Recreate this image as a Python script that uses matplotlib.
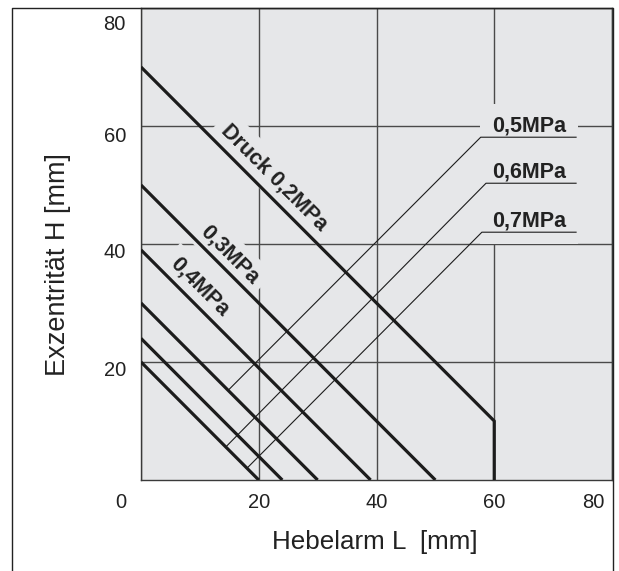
import matplotlib.pyplot as plt
from matplotlib.lines import Line2D

plt.rcParams['font.family'] = ['Liberation Sans', 'DejaVu Sans']

# Kennlinien: Hebelarm L [mm] -> Exzentrität H [mm]
druck_02_L = [0, 60, 60]
druck_02_H = [70, 10, 0]
druck_03_L = [0, 50]
druck_03_H = [50, 0]
druck_04_L = [0, 39]
druck_04_H = [39, 0]
druck_05_L = [0, 30]
druck_05_H = [30, 0]
druck_06_L = [0, 24]
druck_06_H = [24, 0]
druck_07_L = [0, 20]
druck_07_H = [20, 0]

# Hinweislinien für 0,5 / 0,6 / 0,7 MPa
hinweis_05_L = [14.8, 57.7, 73.9]
hinweis_05_H = [15.2, 58.1, 58.1]
hinweis_06_L = [14.4, 58.6, 73.9]
hinweis_06_H = [5.6, 50.3, 50.3]
hinweis_07_L = [18.0, 57.9, 73.9]
hinweis_07_H = [2.0, 42.0, 42.0]

x_ticks = [0, 20, 40, 60, 80]
y_ticks = [20, 40, 60, 80]

bg = '#e6e7e9'
dunkel = '#1c1c1c'
gitter = '#4a4a4a'

fig = plt.figure(figsize=(6.19, 5.71), dpi=100)
ax = fig.add_axes([141 / 619, 1 - 480 / 571, 471 / 619, 472 / 571])
ax.set_facecolor(bg)
ax.set_xlim(0, 80)
ax.set_ylim(0, 80)
ax.set_xticks(x_ticks)
ax.set_yticks(y_ticks)
ax.tick_params(length=0, labelbottom=False, labelleft=False)
ax.grid(True, color=gitter, lw=1.0, zorder=1)
ax.set_axisbelow(True)
for s in ax.spines.values():
    s.set_color('#3a3a3a')
    s.set_linewidth(1.0)

# dicke Kennlinien
for L, H in [(druck_02_L, druck_02_H), (druck_03_L, druck_03_H),
             (druck_04_L, druck_04_H), (druck_05_L, druck_05_H),
             (druck_06_L, druck_06_H), (druck_07_L, druck_07_H)]:
    ax.plot(L, H, color=dunkel, lw=2.3, zorder=4, solid_capstyle='butt')

# dünne Hinweislinien
for L, H in [(hinweis_05_L, hinweis_05_H), (hinweis_06_L, hinweis_06_H),
             (hinweis_07_L, hinweis_07_H)]:
    ax.plot(L, H, color=dunkel, lw=0.8, zorder=4)

box = dict(boxstyle='square,pad=0.35', fc=bg, ec='none')
fett = dict(fontsize=15.5, fontweight='bold', color='#222222', zorder=3)

ax.text(22.6, 51.3, 'Druck 0,2MPa', rotation=-45, rotation_mode='anchor',
        ha='center', va='center', bbox=box, **fett)
ax.text(15.1, 38.1, '0,3MPa', rotation=-45, rotation_mode='anchor',
        ha='center', va='center', bbox=box, **fett)
ax.text(9.9, 32.7, '0,4MPa', rotation=-45, rotation_mode='anchor',
        ha='center', va='center', bbox=box, **fett)

for txt, h, pad in [('0,5MPa', hinweis_05_H[-1], 0.55),
                    ('0,6MPa', hinweis_06_H[-1], 0.8),
                    ('0,7MPa', hinweis_07_H[-1], 0.55)]:
    ax.text(59.6, h + 0.9, txt, ha='left', va='baseline',
            bbox=dict(boxstyle=f'square,pad={pad}', fc=bg, ec='none'), **fett)

# Achsenbeschriftung
x_off = {0: -20, 80: -19}
for v in x_ticks:
    ax.annotate(str(v), (v, 0), xycoords=('data', 'axes fraction'),
                xytext=(x_off.get(v, 0), -22), textcoords='offset pixels',
                ha='center', va='center', fontsize=14.5, color='#222222',
                annotation_clip=False)
y_off = {80: -16, 60: -10}
for v in y_ticks:
    ax.annotate(str(v), (0, v), xycoords=('axes fraction', 'data'),
                xytext=(-15, y_off.get(v, -8)), textcoords='offset pixels',
                ha='right', va='center', fontsize=14.5, color='#222222',
                annotation_clip=False)

fig.text(375 / 619, 1 - 542 / 571, 'Hebelarm L  [mm]', ha='center',
         va='center', fontsize=18.7, color='#222222')
fig.text(58 / 619, 1 - 265 / 571, 'Exzentrität H [mm]', ha='center',
         va='center', rotation=90, fontsize=19.5, color='#222222')

# Rahmen
fig.add_artist(Line2D([12 / 619, 12 / 619, 612.5 / 619, 612.5 / 619],
                      [0, 1 - 8 / 571, 1 - 8 / 571, 0],
                      transform=fig.transFigure, color='#222222', lw=1.0))

fig.savefig('out.png', dpi=100)
